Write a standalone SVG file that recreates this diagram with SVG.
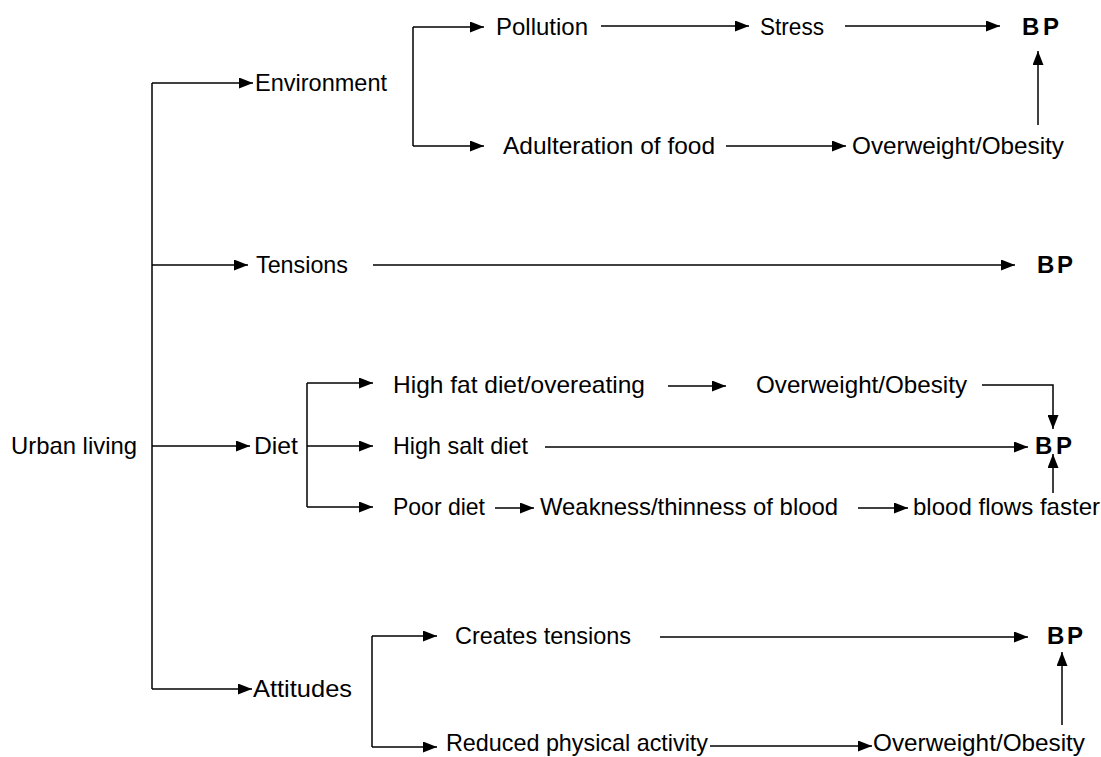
<svg xmlns="http://www.w3.org/2000/svg" width="1101" height="757" viewBox="0 0 1101 757">
<defs>
<marker id="ah" markerUnits="userSpaceOnUse" markerWidth="14" markerHeight="11" refX="14" refY="5.5" orient="auto">
<path d="M0,0 L14,5.5 L0,11 z" fill="#000"/>
</marker>
<style>
text{font-family:"Liberation Sans",Arial,sans-serif;font-size:24px;fill:#000;}
.bp{font-weight:bold;}
.c path{fill:none;stroke:#000;stroke-width:1.5;}
.c .a{marker-end:url(#ah);}
</style>
</defs>
<rect width="1101" height="757" fill="#fff"/>
<g class="c" id="connectors">
<path d="M152,83 V689"/>
<path class="a" d="M152,83 H253"/>
<path class="a" d="M152,265 H248"/>
<path class="a" d="M152,446 H250"/>
<path class="a" d="M152,689 H252"/>
<path d="M413,27 V146"/>
<path class="a" d="M413,27 H484"/>
<path class="a" d="M413,146 H484"/>
<path class="a" d="M601,26 H749"/>
<path class="a" d="M845,26 H1000"/>
<path class="a" d="M726,146 H846"/>
<path class="a" d="M1038,125 V51"/>
<path class="a" d="M373,265 H1015"/>
<path d="M307,383 V507"/>
<path class="a" d="M307,383 H373"/>
<path class="a" d="M307,446 H373"/>
<path class="a" d="M307,507 H373"/>
<path class="a" d="M668,386 H726"/>
<path class="a" d="M982,385 H1053 V429"/>
<path class="a" d="M545,447 H1028"/>
<path class="a" d="M495,508 H534"/>
<path class="a" d="M858,508 H908"/>
<path class="a" d="M1053,493 V454"/>
<path d="M372,636 V747"/>
<path class="a" d="M372,636 H437"/>
<path class="a" d="M372,747 H437"/>
<path class="a" d="M660,637 H1028"/>
<path class="a" d="M710,746 H872"/>
<path class="a" d="M1062,725 V652"/>
</g>
<g id="n-urban"><text x="11" y="454" textLength="126" lengthAdjust="spacingAndGlyphs">Urban living</text></g>
<g id="n-environment"><text x="255" y="91" textLength="132" lengthAdjust="spacingAndGlyphs">Environment</text></g>
<g id="n-pollution"><text x="496" y="35" textLength="92" lengthAdjust="spacingAndGlyphs">Pollution</text></g>
<g id="n-stress"><text x="760" y="35" textLength="64" lengthAdjust="spacingAndGlyphs">Stress</text></g>
<g id="n-bp1"><text class="bp" x="1022" y="35" textLength="37" lengthAdjust="spacing">BP</text></g>
<g id="n-adulteration"><text x="503" y="154" textLength="212" lengthAdjust="spacingAndGlyphs">Adulteration of food</text></g>
<g id="n-overweight1"><text x="852" y="154" textLength="212" lengthAdjust="spacingAndGlyphs">Overweight/Obesity</text></g>
<g id="n-tensions"><text x="256" y="273" textLength="92" lengthAdjust="spacingAndGlyphs">Tensions</text></g>
<g id="n-bp2"><text class="bp" x="1037" y="273" textLength="36" lengthAdjust="spacing">BP</text></g>
<g id="n-diet"><text x="254" y="454" textLength="44" lengthAdjust="spacingAndGlyphs">Diet</text></g>
<g id="n-highfat"><text x="393" y="393" textLength="252" lengthAdjust="spacingAndGlyphs">High fat diet/overeating</text></g>
<g id="n-overweight2"><text x="756" y="393" textLength="211" lengthAdjust="spacingAndGlyphs">Overweight/Obesity</text></g>
<g id="n-highsalt"><text x="393" y="454" textLength="135" lengthAdjust="spacingAndGlyphs">High salt diet</text></g>
<g id="n-bp3"><text class="bp" x="1035" y="454" textLength="37" lengthAdjust="spacing">BP</text></g>
<g id="n-poordiet"><text x="393" y="515" textLength="92" lengthAdjust="spacingAndGlyphs">Poor diet</text></g>
<g id="n-weakness"><text x="540" y="515" textLength="298" lengthAdjust="spacingAndGlyphs">Weakness/thinness of blood</text></g>
<g id="n-faster"><text x="913" y="515" textLength="187" lengthAdjust="spacingAndGlyphs">blood flows faster</text></g>
<g id="n-attitudes"><text x="253" y="697" textLength="99" lengthAdjust="spacingAndGlyphs">Attitudes</text></g>
<g id="n-creates"><text x="455" y="644" textLength="176" lengthAdjust="spacingAndGlyphs">Creates tensions</text></g>
<g id="n-bp4"><text class="bp" x="1047" y="644" textLength="36" lengthAdjust="spacing">BP</text></g>
<g id="n-reduced"><text x="446" y="751" textLength="262" lengthAdjust="spacingAndGlyphs">Reduced physical activity</text></g>
<g id="n-overweight3"><text x="873" y="751" textLength="212" lengthAdjust="spacingAndGlyphs">Overweight/Obesity</text></g>
</svg>
